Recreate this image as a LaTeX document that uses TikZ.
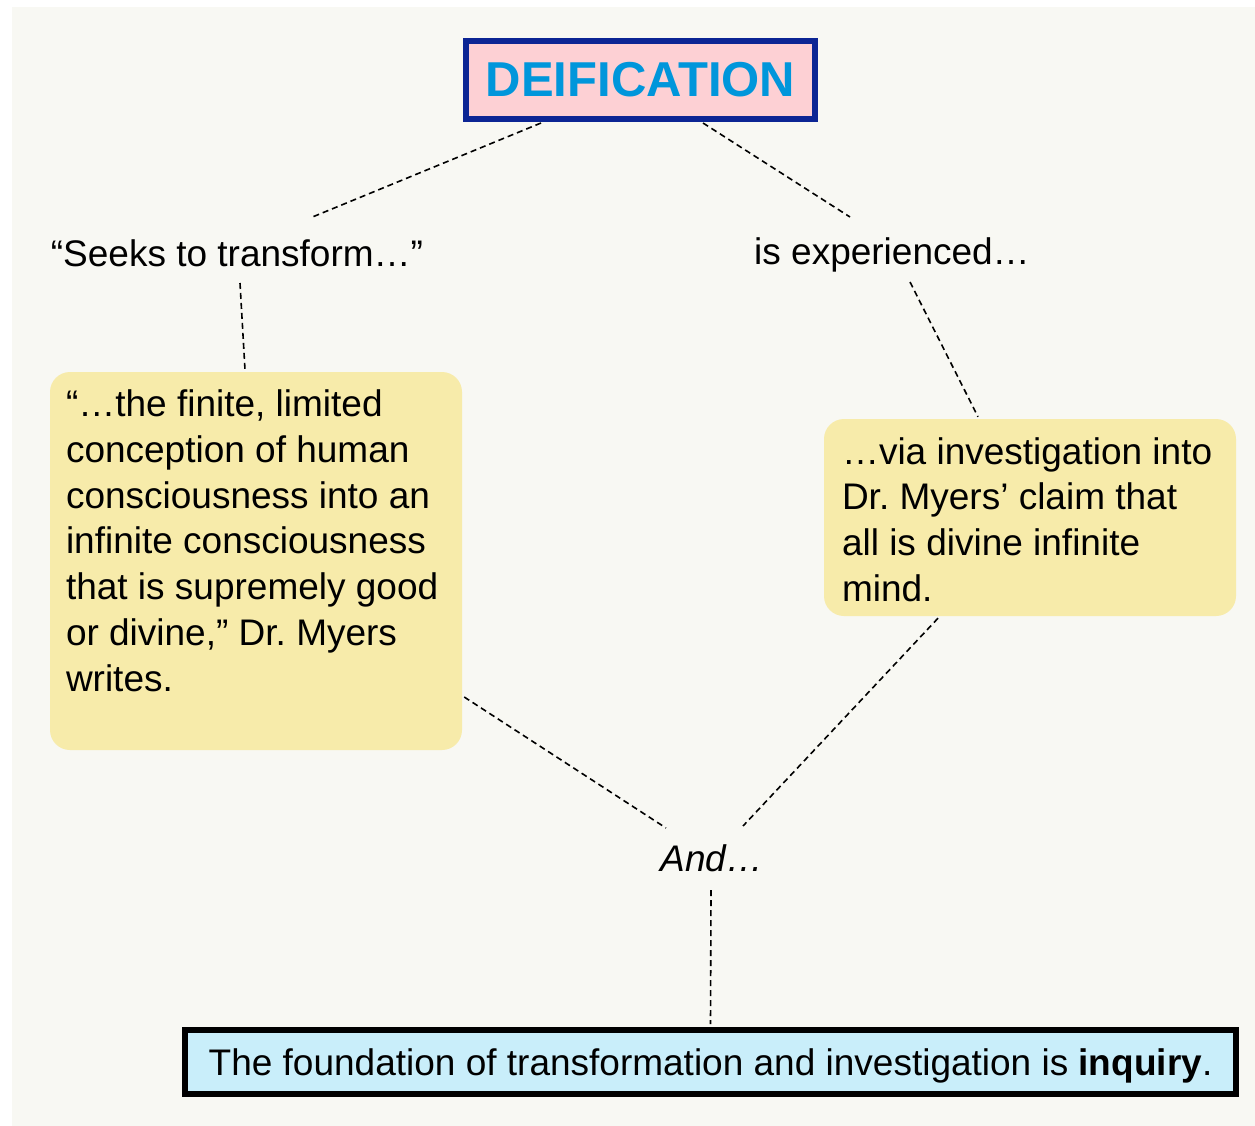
\documentclass[tikz,border=0pt]{standalone}
\usepackage{fontspec}
\setmainfont{Liberation Sans}
\usetikzlibrary{calc,positioning}
\definecolor{paper}{HTML}{F8F8F3}
\definecolor{titlefill}{HTML}{FDD0D4}
\definecolor{titleline}{HTML}{0C2594}
\definecolor{titletext}{HTML}{0096DB}
\definecolor{notefill}{HTML}{F7EBAA}
\definecolor{basefill}{HTML}{C9EEFA}
\frenchspacing

\begin{document}
\begin{tikzpicture}[x=1pt,y=-1pt,
  link/.style={dash pattern=on 6pt off 4pt, line width=1.6pt},
  plain/.style={font=\fontsize{37}{45.7}\selectfont, inner sep=0pt},
  note/.style={fill=notefill, rounded corners=20pt, minimum width=412pt}]
  % Page
  \useasboundingbox (0,0) rectangle (1255,1126);
  \fill[white] (0,0) rectangle (1255,1126);
  \fill[paper] (12,7) rectangle (1255,1126);

  % Title
  \node[draw=titleline, line width=6pt, fill=titlefill, minimum width=349pt, minimum height=78pt,
        font=\fontsize{49}{55}\selectfont\bfseries, text=titletext] (deif) at (640.5,80) {DEIFICATION};

  % Branch labels
  \node[plain] (seeks) at (237,253) {“Seeks to transform…”};
  \node[plain] (exper) at (892,255) {is experienced…};

  % Left note
  \node[note, minimum height=378pt] (finite) at (256,561) {};
  \node[plain, align=left, anchor=north west] (finitetxt) at ($(finite.north west)+(16,18)$)
    {“…the finite, limited\\conception of human\\consciousness into an\\infinite consciousness\\that is supremely good\\or divine,” Dr. Myers\\writes.};

  % Right note
  \node[note, minimum height=197pt] (myers) at (1030,517.5) {};
  \node[plain, align=left, anchor=west] (myerstxt) at ($(myers.west)+(18,2)$)
    {…via investigation into\\Dr. Myers’ claim that\\all is divine infinite\\mind.};

  % And
  \node[plain, font=\fontsize{37}{45.7}\selectfont\itshape] (and) at (712,858) {And…};

  % Foundation
  \node[draw=black, line width=6pt, fill=basefill, minimum width=1051pt, minimum height=64pt,
        text height=27pt, text depth=0pt, font=\fontsize{37}{45.7}\selectfont] (found) at (710.5,1062)
    {The foundation of transformation and investigation is \textbf{inquiry}.};

  % Links
  \draw[link] ($(deif.center)+(-99.5,43)$) -- ($(seeks.center)+(73,-35)$);
  \draw[link] ($(deif.center)+(62.5,43)$) -- ($(exper.center)+(-42,-38)$);
  \draw[link] ($(seeks.center)+(3,30)$) -- ($(finite.north)+(-11,-2)$);
  \draw[link] ($(exper.center)+(18,27)$) -- ($(myers.north)+(-52,-2)$);
  \draw[link] ($(finite.east)+(2,136)$) -- ($(and.center)+(-46,-30)$);
  \draw[link] ($(myers.south)+(-92,2)$) -- ($(and.center)+(31,-32)$);
  \draw[link] ($(and.center)+(-1,32)$) -- ($(found.north)+(0,-3)$);
\end{tikzpicture}
\end{document}
